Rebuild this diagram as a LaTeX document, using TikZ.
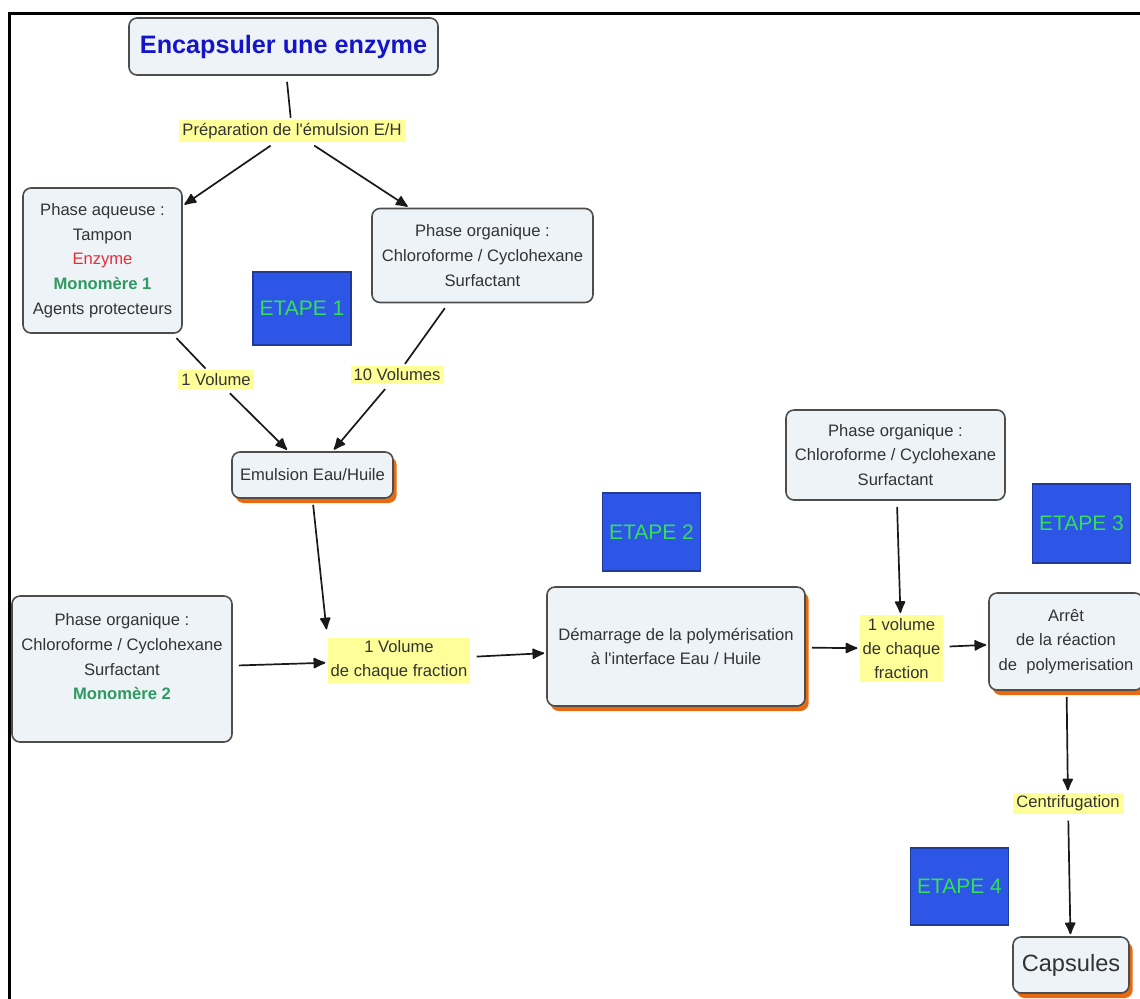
\documentclass[tikz,border=0pt]{standalone}
\usepackage{fontspec}
\setmainfont{Liberation Sans}
\usetikzlibrary{arrows.meta,shadows}
\definecolor{boxfill}{HTML}{EEF3F7}
\definecolor{boxline}{HTML}{4D4D4D}
\definecolor{textgrey}{HTML}{333333}
\definecolor{hlyellow}{HTML}{FFFF99}
\definecolor{etapefill}{HTML}{2D56E6}
\definecolor{etapeline}{HTML}{203A9A}
\definecolor{etapetext}{HTML}{33E055}
\definecolor{shadoworange}{HTML}{E86A10}
\definecolor{titleblue}{HTML}{1515C8}
\definecolor{enzred}{HTML}{E0303A}
\definecolor{monogreen}{HTML}{2E9960}
\def\mono#1{{\color{monogreen}\bfseries #1}}

\tikzset{
  concept/.style={draw=boxline,fill=boxfill,rounded corners=4pt,line width=0.8pt,
    align=center,text=textgrey,font=\fontsize{8.3}{12.3}\selectfont,inner sep=2pt},
  shadowed/.style={drop shadow={shadow xshift=1.8pt,shadow yshift=-2.5pt,
    fill=shadoworange,opacity=1}},
  linkword/.style={fill=hlyellow,text=textgrey,align=center,
    font=\fontsize{8.3}{12}\selectfont,inner sep=1.5pt},
  etape/.style={draw=etapeline,fill=etapefill,text=etapetext,line width=0.6pt,
    font=\fontsize{10.5}{12}\selectfont},
  link/.style={line width=0.85pt,draw=black!90,shorten <=3pt,shorten >=1pt},
  arrow/.style={link,-{Latex[round,length=7pt,width=6pt]}},
}

\begin{document}
\begin{tikzpicture}[x=0.5pt,y=-0.5pt]
	\useasboundingbox (0,0) rectangle (1140,998);
	% frame
	\draw [line width=1.5pt] (9,1000) -- (9,13) -- (1142,13);

	% etape 1
	\node (title) at (283.5,46.5) [concept,minimum width=154.5pt,minimum height=28.5pt,text=titleblue,font=\fontsize{12.6}{14}\selectfont\bfseries] {Encapsuler une enzyme};
	\node (prep) at (292,131) [linkword] {Préparation de l\textquotesingle émulsion E/H};
	\node (aq) at (102.5,260.5) [concept,minimum width=79.5pt,minimum height=72.5pt] {Phase aqueuse :\\Tampon\\{\color{enzred}Enzyme}\\\mono{Monomère 1}\\Agents protecteurs};
	\node (org1) at (482.5,255.5) [concept,minimum width=110.5pt,minimum height=47pt] {Phase organique :\\Chloroforme / Cyclohexane\\Surfactant};
	\node (et1) at (302,308.5) [etape,minimum width=45pt,minimum height=36.5pt] {ETAPE 1};
	\node (vol1) at (216,379.5) [linkword] {1 Volume};
	\node (vol10) at (397,375) [linkword] {10 Volumes};
	\node (emul) at (312.5,475) [concept,shadowed,minimum width=80.5pt,minimum height=23pt] {Emulsion Eau/Huile};

	% etape 2
	\node (org2) at (122,669) [concept,minimum width=110pt,minimum height=73pt] {Phase organique :\\Chloroforme / Cyclohexane\\Surfactant\\\mono{Monomère 2}\\ \mbox{}};
	\node (frac1) at (399,660.5) [linkword] {1 Volume\\de chaque fraction};
	\node (et2) at (651.5,532) [etape,minimum width=45.5pt,minimum height=39pt] {ETAPE 2};
	\node (demarr) at (676,646.5) [concept,shadowed,minimum width=129pt,minimum height=59.5pt] {Démarrage de la polymérisation\\à l\textquotesingle interface Eau / Huile};

	% etape 3
	\node (org3) at (895.5,455) [concept,minimum width=109.5pt,minimum height=45pt] {Phase organique :\\Chloroforme / Cyclohexane\\Surfactant};
	\node (frac2) at (901.5,648.5) [linkword] {1 volume\\de chaque\\fraction};
	\node (et3) at (1081.5,523.5) [etape,minimum width=45.5pt,minimum height=39.5pt] {ETAPE 3};
	\node (arret) at (1066,641.5) [concept,shadowed,minimum width=77pt,minimum height=48.5pt] {Arrêt\\de la réaction\\de\ \ polymerisation};

	% etape 4
	\node (centri) at (1068,803.5) [linkword] {Centrifugation};
	\node (et4) at (959.5,886.5) [etape,minimum width=45.5pt,minimum height=38.5pt] {ETAPE 4};
	\node (caps) at (1071,965) [concept,shadowed,minimum width=58pt,minimum height=28pt,font=\fontsize{11.8}{14}\selectfont] {Capsules};

	\draw [link] (title) -- (prep);
	\draw [arrow] (prep) -- (aq);
	\draw [arrow] (prep) -- (org1);
	\draw [link] (aq) -- (vol1);
	\draw [arrow] (vol1) -- (emul);
	\draw [link] (org1) -- (vol10);
	\draw [arrow] (vol10) -- (emul);
	\draw [arrow,shorten >=4pt] (emul.south) -- (frac1.north west);
	\draw [arrow] (org2) -- (frac1);
	\draw [arrow] (frac1) -- (demarr);
	\draw [arrow] (demarr) -- (frac2);
	\draw [arrow] (org3) -- (frac2);
	\draw [arrow] (frac2) -- (arret);
	\draw [arrow] (arret) -- (centri);
	\draw [arrow] (centri) -- (caps);
\end{tikzpicture}
\end{document}
